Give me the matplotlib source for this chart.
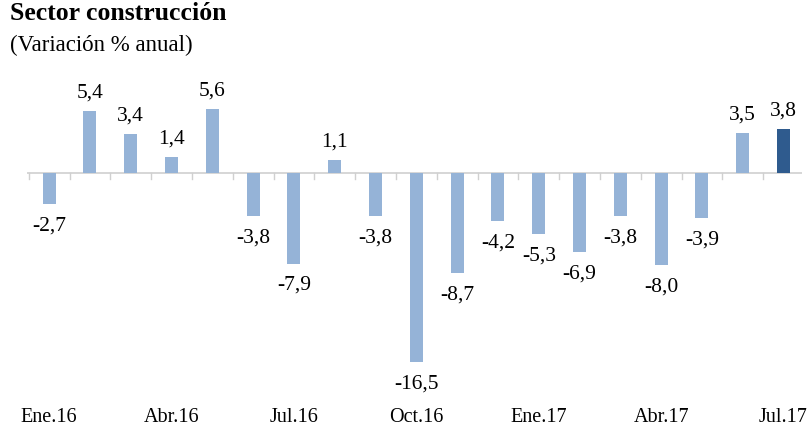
import numpy as np
import matplotlib.pyplot as plt
from matplotlib.transforms import blended_transform_factory

# monthly data Jan 2016 - Jul 2017
months = ['Ene.16', 'Feb.16', 'Mar.16', 'Abr.16', 'May.16', 'Jun.16', 'Jul.16',
          'Ago.16', 'Sep.16', 'Oct.16', 'Nov.16', 'Dic.16', 'Ene.17', 'Feb.17',
          'Mar.17', 'Abr.17', 'May.17', 'Jun.17', 'Jul.17']
values = [-2.7, 5.4, 3.4, 1.4, 5.6, -3.8, -7.9, 1.1, -3.8, -16.5, -8.7,
          -4.2, -5.3, -6.9, -3.8, -8.0, -3.9, 3.5, 3.8]
shown_ticks = ['Ene.16', 'Abr.16', 'Jul.16', 'Oct.16', 'Ene.17', 'Abr.17', 'Jul.17']

title = 'Sector construcción'
subtitle = '(Variación % anual)'

light = '#95B3D7'
dark = '#2F5B8E'
font = 'Liberation Serif'

fig = plt.figure(figsize=(8.1, 4.28), dpi=100)
ax = fig.add_axes([0.033, 0.0654, 0.957, 0.7477])

x = np.arange(len(values))
colors = [light] * (len(values) - 1) + [dark]
ax.bar(x, values, width=0.32, color=colors, zorder=2)

ax.set_xlim(-0.55, 18.45)
ax.set_ylim(-19.8, 8.1)

# zero line with small ticks at category boundaries
ax.axhline(0, color='#D0D0D0', lw=1.2, zorder=1)
for b in np.arange(-0.5, len(values), 1.0):
    ax.plot([b, b], [0, -0.55], color='#D0D0D0', lw=1.0, zorder=1)

for xi, v in zip(x, values):
    lab = f'{v:.1f}'.replace('.', ',')
    if v >= 0:
        ax.annotate(lab, (xi, v), xytext=(0, 6), textcoords='offset points',
                    ha='center', va='bottom', fontsize=15.5, family=font)
    else:
        ax.annotate(lab, (xi, v), xytext=(0, -9), textcoords='offset points',
                    ha='center', va='top', fontsize=15.5, family=font)

# category labels along the bottom edge of the figure
trans = blended_transform_factory(ax.transData, fig.transFigure)
for lab in shown_ticks:
    i = months.index(lab)
    ax.text(i, 10 / 428, lab, transform=trans, ha='center',
            va='center', fontsize=14.5, family=font)

ax.axis('off')

fig.text(0.012, 0.995, title, ha='left', va='top', fontsize=18.5,
         fontweight='bold', family=font)
fig.text(0.012, 0.918, subtitle, ha='left', va='top', fontsize=16.5, family=font)

fig.savefig('out.png', dpi=100)
